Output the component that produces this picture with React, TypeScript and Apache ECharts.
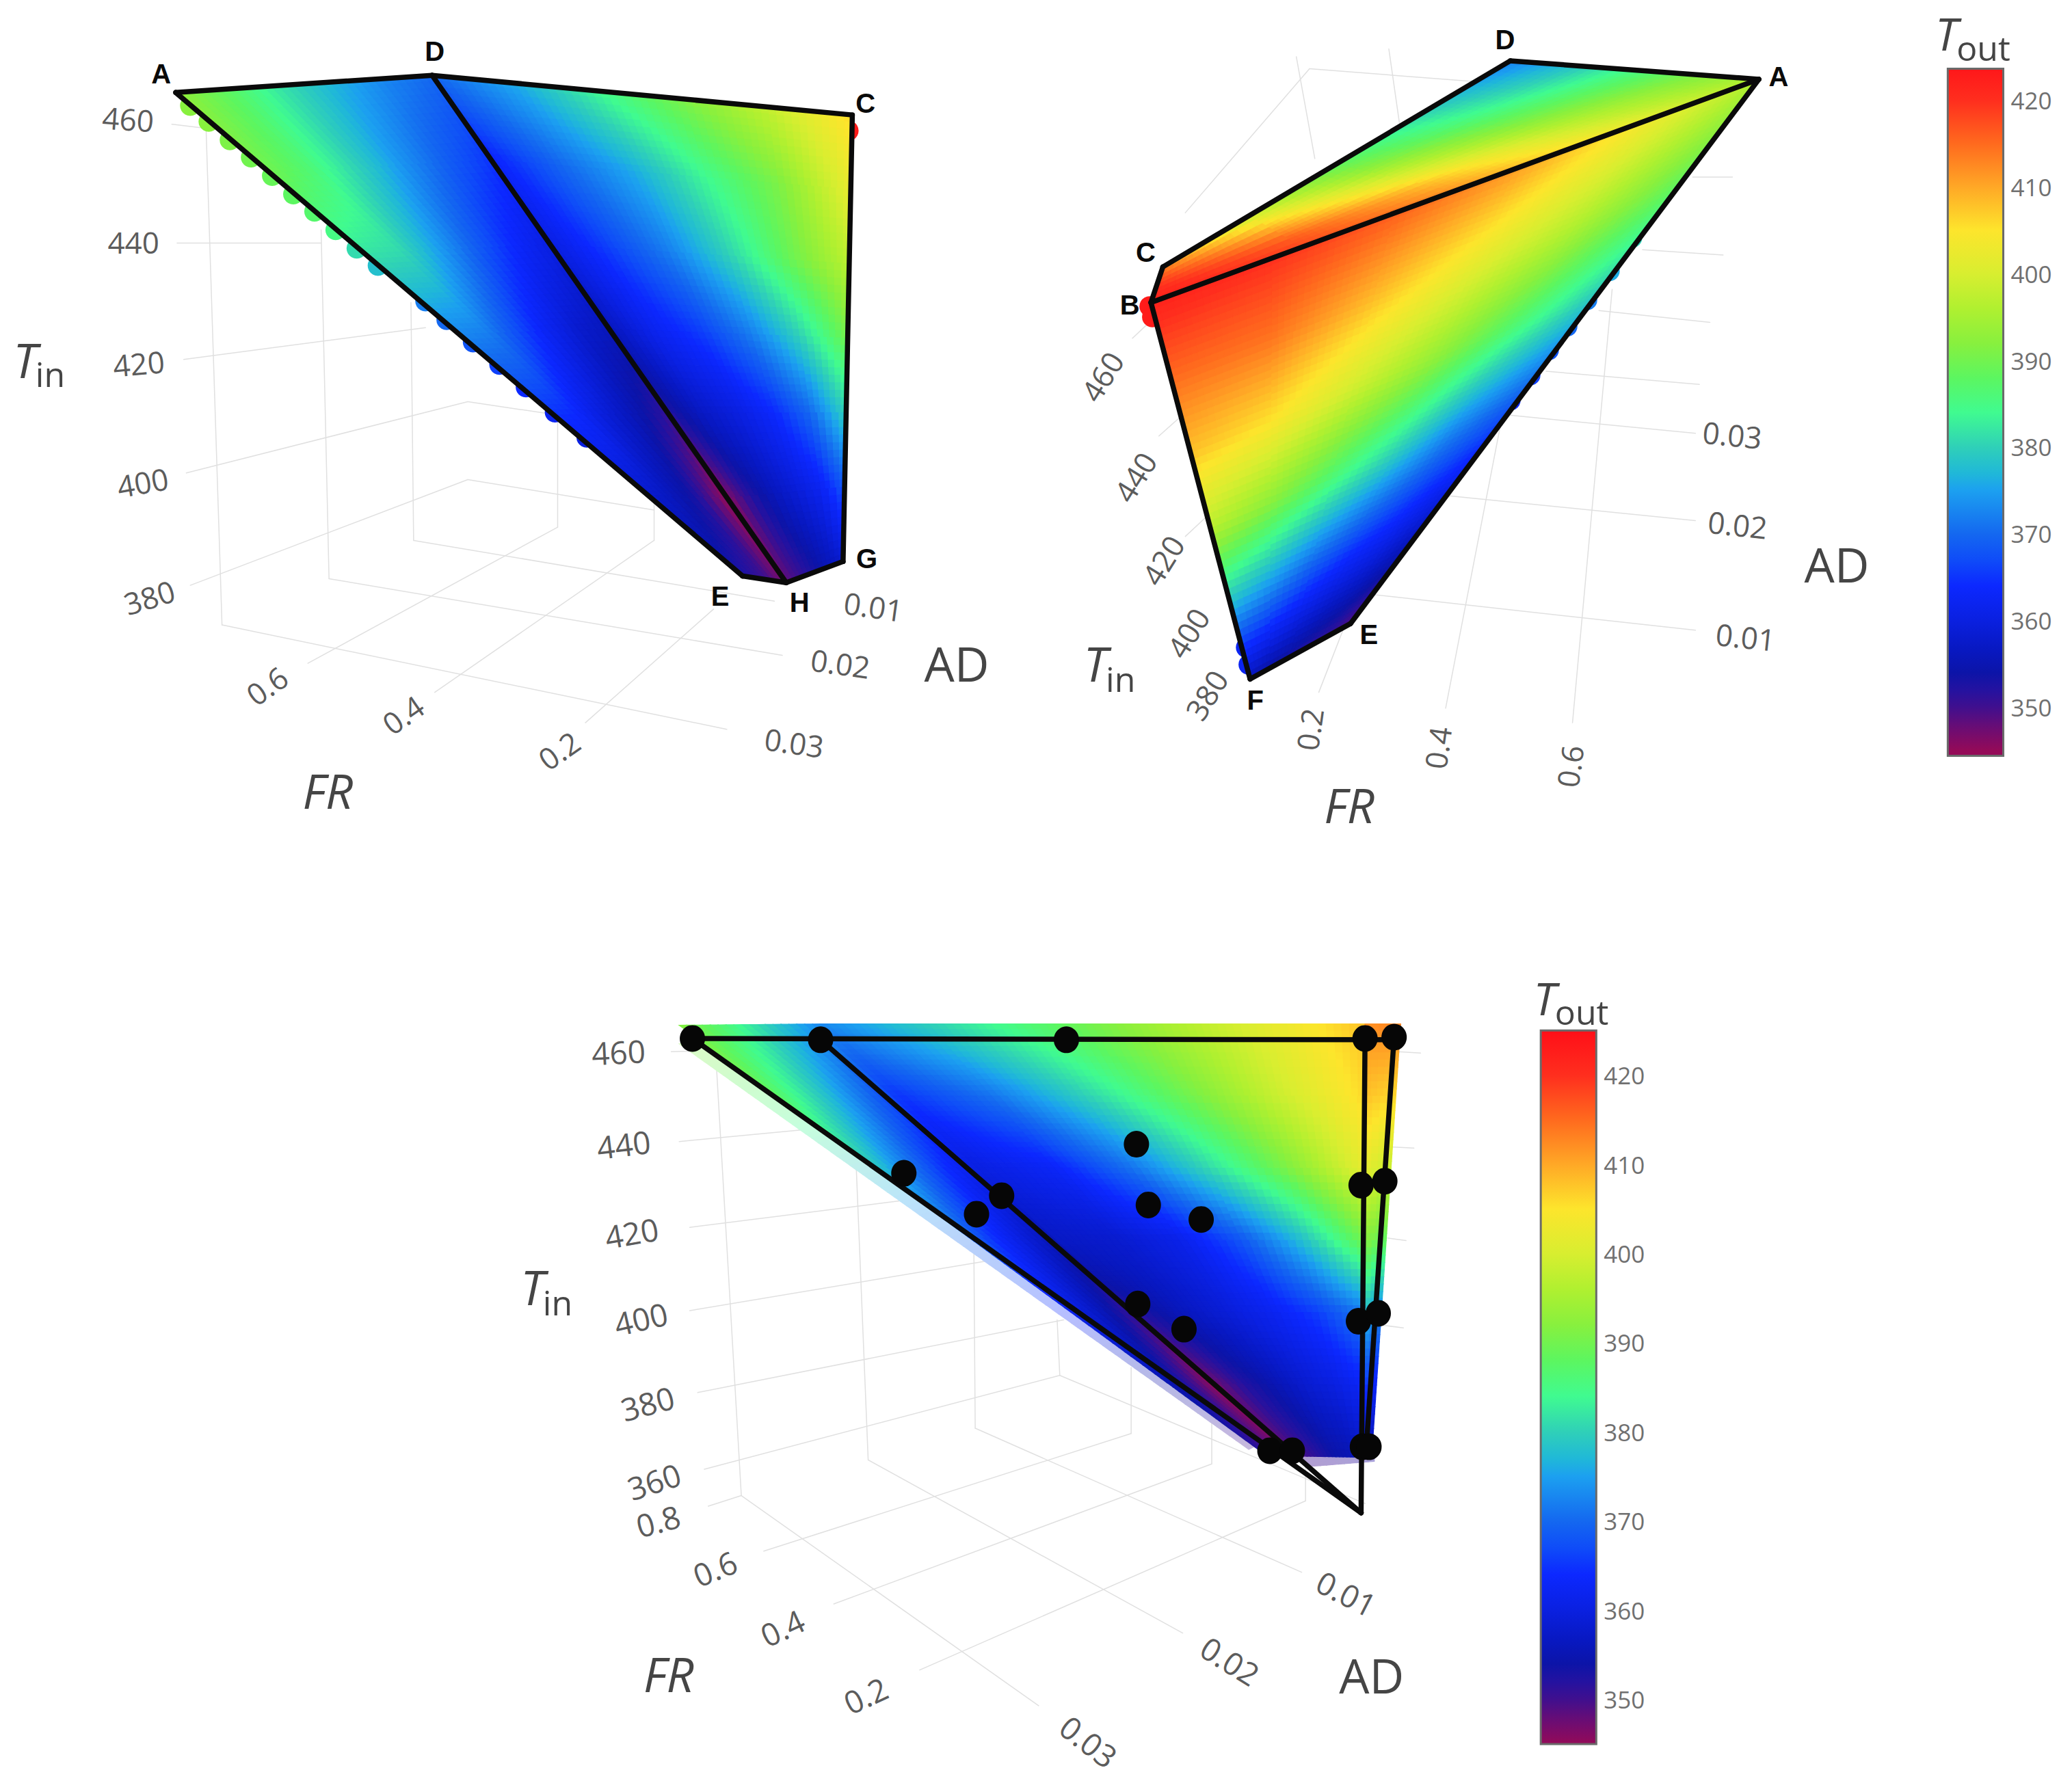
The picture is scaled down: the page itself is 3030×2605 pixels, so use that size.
import React, { useEffect, useRef } from "react";
import * as echarts from "echarts";

type Pt = [number, number];

// Colour scale
const scaleValues = [345, 348, 350, 352, 354, 356.5, 360, 364, 367, 370, 375, 377, 380, 384, 388, 392, 396, 400, 405, 410, 415, 420, 425];
const scaleColors = ["#940a58", "#640d78", "#400f8e", "#2412a0", "#0c14a8", "#0818c0", "#0a20e0", "#0c28ff", "#0f4cf8", "#1468f0", "#1ca0f0", "#20b8d8", "#2fd0b8", "#40fb90", "#5cf660", "#88f03e", "#b0f030", "#d8ee30", "#fde52c", "#ffa826", "#ff6a1e", "#ff2e1e", "#ff0f18"];

// Surfaces: corners (top-left, top-right, bottom-right, bottom-left) on the picture plane; T_out readings on a lattice
const p1LeftCorners: Pt[] = [[133, 70], [327, 57], [595, 441], [562, 436]];
const p1LeftTemps = [
  [393, 388, 382, 377, 373, 370],
  [390, 386, 380, 374, 369, 365],
  [382, 381, 375, 369, 364, 360],
  [373, 372, 367, 362, 358, 356],
  [365, 364, 360, 357, 354, 351],
  [358, 357, 355, 353, 349, 345],
  [353, 352, 351, 350, 348, 347],
];
const p1RightCorners: Pt[] = [[327, 57], [645, 87], [638, 425], [595, 441]];
const p1RightTemps = [
  [370, 376, 384, 391, 398, 406],
  [363, 370, 376, 384, 391, 402],
  [360, 366, 372, 380, 389, 397],
  [356, 362, 366, 372, 380, 390],
  [352, 357, 360, 364, 370, 380],
  [346, 352, 356, 359, 362, 368],
  [348, 350, 352, 354, 356, 358],
];
const p2TopCorners: Pt[] = [[880, 202], [1143, 46], [1331, 60], [871, 229]];
const p2TopTemps = [
  [412, 398, 388, 380, 372],
  [416, 405, 393, 385, 378],
  [419, 411, 400, 391, 385],
  [421, 416, 408, 398, 391],
  [422, 418, 412, 404, 396],
];
const p2LowCorners: Pt[] = [[871, 229], [1331, 60], [1022, 472], [946, 514]];
const p2LowTemps = [
  [422, 420, 416, 411, 404, 396],
  [415, 414, 408, 402, 396, 388],
  [408, 405, 399, 393, 386, 379],
  [397, 392, 386, 380, 373, 368],
  [378, 374, 369, 365, 362, 358],
  [356, 354, 353, 352, 351, 349],
];
const p3LeftCorners: Pt[] = [[514, 776], [621, 775], [978, 1102], [952, 1097]];
const p3LeftTemps = [
  [392, 386, 379, 373],
  [388, 380, 372, 365],
  [380, 372, 365, 360],
  [370, 364, 359, 355],
  [362, 358, 354, 350],
  [356, 353, 349, 345],
  [352, 350, 348, 347],
];
const p3MidCorners: Pt[] = [[621, 775], [1033, 775], [1033, 1103], [978, 1102]];
const p3MidTemps = [
  [373, 380, 387, 394, 401, 408],
  [365, 371, 380, 389, 398, 406],
  [360, 363, 371, 381, 391, 402],
  [357, 358, 361, 368, 378, 390],
  [352, 356, 359, 362, 366, 372],
  [347, 352, 355, 358, 360, 363],
  [348, 350, 352, 354, 355, 357],
];
const p3RightCorners: Pt[] = [[1033, 775], [1060, 775], [1038, 1103], [1033, 1103]];
const p3RightTemps = [
  [412, 413],
  [408, 406],
  [402, 398],
  [392, 388],
  [378, 372],
  [366, 362],
  [356, 354],
];
const p3FringeCorners: Pt[] = [[514, 790], [526, 787], [955, 1092], [945, 1097]];
const p3FringeTemps = [
  [392, 392],
  [386, 386],
  [378, 378],
  [370, 370],
  [364, 364],
  [354, 354],
  [350, 350],
];
const p3FootCorners: Pt[] = [[975, 1100], [1040, 1098], [1040, 1106], [990, 1110]];
const p3FootTemps = [
  [350, 352],
  [350, 352],
];

// Sampled points that poke out past the surface outlines: x, y, T_out
const edgeBlobs = [
  [144, 80, 392], [158, 92, 392], [174, 106, 391], [190, 119, 390], [206, 133, 389], [222, 147, 388], [238, 160, 387], [254, 174, 385], [270, 188, 381], [286, 201, 378],
  [322, 228, 372], [338, 242, 370], [358, 259, 368], [378, 276, 366], [398, 293, 364], [420, 312, 362], [444, 331, 360],
  [642, 99, 423],
  [870, 232, 423], [872, 240, 423], [943, 490, 362], [945, 503, 362],
  [1235, 180, 380], [1218, 205, 376], [1201, 227, 372], [1186, 247, 370], [1172, 265, 368], [1158, 284, 366], [1143, 303, 364],
];

// Black design points in the lower panel: x, y
const designPoints: Pt[] = [
  [524, 786], [621, 787], [807, 787], [1033, 786], [1055, 785], [860, 866], [684, 888], [1030, 897], [1048, 894], [758, 905], [739, 919],
  [869, 912], [909, 923], [861, 987], [896, 1006], [1028, 1000], [1043, 994], [961, 1098], [978, 1098], [1031, 1095], [1036, 1095],
];

// Box edges / grid lines: x1, y1, x2, y2
const gridSegments = [
  // upper-left
  [130, 94, 155, 97], [134, 184, 243, 184], [139, 272, 322, 248], [141, 358, 354, 304], [144, 443, 354, 363], [168, 473, 550, 552], [249, 438, 592, 496], [313, 409, 586, 455],
  [354, 363, 495, 386], [354, 304, 421, 314], [168, 473, 156, 99], [249, 438, 243, 174], [313, 409, 311, 229], [422, 399, 422, 318], [495, 409, 495, 376],
  [233, 502, 422, 399], [329, 524, 495, 409], [443, 547, 540, 461],
  // upper-right
  [991, 52, 1119, 62], [991, 52, 897, 161], [981, 43, 995, 120], [1051, 37, 1059, 93], [1281, 134, 1311, 134], [1243, 189, 1304, 193], [1210, 235, 1294, 244], [1170, 281, 1286, 291],
  [1140, 314, 1283, 328], [1094, 375, 1283, 394], [1039, 450, 1283, 477], [998, 524, 1019, 470], [1094, 536, 1137, 314], [1190, 547, 1220, 219],
  [857, 256, 875, 239], [877, 330, 895, 314], [897, 406, 912, 392],
  // lower
  [508, 796, 542, 795], [1058, 796, 1075, 797], [514, 864, 609, 855], [1052, 868, 1070, 869], [522, 929, 704, 906], [1050, 937, 1064, 939], [522, 992, 755, 953], [1046, 1003, 1062, 1005],
  [528, 1054, 805, 999], [533, 1112, 802, 1041], [561, 1132, 542, 804], [657, 1105, 648, 884], [738, 1081, 737, 947], [802, 1041, 800, 999], [856, 1085, 856, 1035], [917, 1108, 917, 1075], [988, 1136, 988, 1107],
  [561, 1132, 786, 1291], [657, 1105, 895, 1236], [738, 1081, 985, 1190], [802, 1041, 1033, 1138], [578, 1174, 856, 1085], [631, 1214, 917, 1108], [696, 1264, 988, 1136], [536, 1140, 561, 1132],
];

// Black outlines: x1, y1, x2, y2
const outlineSegments = [
  [133, 70, 327, 57], [327, 57, 645, 87], [645, 87, 638, 425], [638, 425, 595, 441], [595, 441, 562, 436], [562, 436, 133, 70], [327, 57, 595, 441],
  [880, 202, 1143, 46], [1143, 46, 1331, 60], [1331, 60, 871, 229], [871, 229, 880, 202], [871, 229, 946, 514], [946, 514, 1022, 472], [1022, 472, 1331, 60],
  [524, 786, 1055, 787], [524, 786, 1030, 1145], [621, 787, 1030, 1145], [1033, 786, 1030, 1145], [1055, 785, 1034, 1095],
];

// Texts: x, y, then the string, rotation (degrees) in the parallel lists
const tickPos: Pt[] = [
  [97, 90], [101, 183], [105, 275], [108, 365], [113, 452], [202, 519], [305, 541], [423, 568], [661, 459], [636, 502], [601, 562],
  [834, 285], [859, 361], [880, 424], [899, 479], [913, 526], [991, 552], [1088, 566], [1188, 580], [1311, 329], [1315, 397], [1321, 482],
  [468, 796], [472, 866], [478, 933], [485, 998], [490, 1062], [495, 1121], [498, 1151], [541, 1187], [592, 1232], [655, 1283], [1019, 1206], [931, 1257], [824, 1318],
];
const tickText = [
  "460", "440", "420", "400", "380", "0.6", "0.4", "0.2", "0.01", "0.02", "0.03",
  "460", "440", "420", "400", "380", "0.2", "0.4", "0.6", "0.03", "0.02", "0.01",
  "460", "440", "420", "400", "380", "360", "0.8", "0.6", "0.4", "0.2", "0.01", "0.02", "0.03",
];
const tickRot = [
  -4, 0, 5, 10, 17, 35, 35, 35, -8, -8, -8,
  58, 58, 58, 58, 58, 82, 82, 82, -6, -6, -6,
  3, 7, 10, 13, 15, 18, 15, 22, 25, 25, -27, -32, -38,
];
const vertexPos: Pt[] = [
  [122, 56], [329, 39], [655, 78], [656, 423], [605, 456], [545, 451],
  [1139, 30], [1346, 58], [867, 191], [855, 231], [950, 530], [1036, 480],
];
const vertexText = ["A", "D", "C", "G", "H", "E", "D", "A", "C", "B", "F", "E"];
const titlePos: Pt[] = [[724, 502], [248, 598], [1390, 427], [1021, 609], [1038, 1268], [506, 1267]];
const titleText = ["AD", "FR", "AD", "FR", "AD", "FR"];
const titleItalic = [false, true, false, true, false, true];
const symbolPos: Pt[] = [[19, 272], [829, 502], [403, 974], [1473, 25], [1169, 755]];
const symbolSubPos: Pt[] = [[38, 283], [848, 514], [422, 986], [1501, 36], [1197, 766]];
const symbolText = ["T", "T", "T", "T", "T"];
const symbolSubText = ["in", "in", "in", "out", "out"];

// Colour bars
const barTicks = [350, 360, 370, 380, 390, 400, 410, 420];
const barOneRange = [344.4, 423.65];
const barTwoRange = [345, 425];

const SX = 3030 / 1568;
const SY = 2605 / 1348;

function hexRgb(h: string) {
  return [parseInt(h.slice(1, 3), 16), parseInt(h.slice(3, 5), 16), parseInt(h.slice(5, 7), 16)];
}
const scaleRgb = scaleColors.map(hexRgb);
function tempColor(t: number, wash = 0) {
  const n = scaleValues.length;
  let rgb: number[];
  if (t <= scaleValues[0]) rgb = scaleRgb[0];
  else if (t >= scaleValues[n - 1]) rgb = scaleRgb[n - 1];
  else {
    let i = 0;
    while (t > scaleValues[i + 1]) i++;
    const f = (t - scaleValues[i]) / (scaleValues[i + 1] - scaleValues[i]);
    rgb = scaleRgb[i].map((a, k) => a + (scaleRgb[i + 1][k] - a) * f);
  }
  const m = rgb.map((c) => Math.round(c + (255 - c) * wash));
  return `rgb(${m[0]},${m[1]},${m[2]})`;
}

const faces = [
  { c: p3FringeCorners, t: p3FringeTemps, wash: 0.7 },
  { c: p3FootCorners, t: p3FootTemps, wash: 0.6 },
  { c: p1LeftCorners, t: p1LeftTemps, wash: 0 },
  { c: p1RightCorners, t: p1RightTemps, wash: 0 },
  { c: p2TopCorners, t: p2TopTemps, wash: 0 },
  { c: p2LowCorners, t: p2LowTemps, wash: 0 },
  { c: p3LeftCorners, t: p3LeftTemps, wash: 0 },
  { c: p3MidCorners, t: p3MidTemps, wash: 0 },
  { c: p3RightCorners, t: p3RightTemps, wash: 0 },
];
const cellItems: number[][] = [];
faces.forEach((f, i) => {
  for (let r = 0; r < f.t.length - 1; r++) for (let k = 0; k < f.t[0].length - 1; k++) cellItems.push([i, r, k]);
});

function facePoint(c: Pt[], u: number, v: number): Pt {
  const tx = c[0][0] + (c[1][0] - c[0][0]) * u;
  const ty = c[0][1] + (c[1][1] - c[0][1]) * u;
  const bx = c[3][0] + (c[2][0] - c[3][0]) * u;
  const by = c[3][1] + (c[2][1] - c[3][1]) * u;
  return [tx + (bx - tx) * v, ty + (by - ty) * v];
}

// One lattice cell, painted with Gouraud-style shading between its four readings
function renderCell(_p: any, api: any) {
  const f = faces[api.value(0)];
  const r = api.value(1);
  const k = api.value(2);
  const rows = f.t.length - 1;
  const cols = f.t[0].length - 1;
  const u0 = k / cols, u1 = (k + 1) / cols, v0 = r / rows, v1 = (r + 1) / rows;
  const a = facePoint(f.c, u0, v0), b = facePoint(f.c, u1, v1), d = facePoint(f.c, u1, v0), e = facePoint(f.c, u0, v1);
  const w = Math.max(Math.hypot(a[0] - d[0], a[1] - d[1]), Math.hypot(e[0] - b[0], e[1] - b[1]));
  const h = Math.max(Math.hypot(a[0] - e[0], a[1] - e[1]), Math.hypot(d[0] - b[0], d[1] - b[1]));
  const nu = Math.max(1, Math.min(18, Math.ceil(w / 6)));
  const nv = Math.max(1, Math.min(18, Math.ceil(h / 6)));
  const children: any[] = [];
  for (let i = 0; i < nu; i++) {
    for (let j = 0; j < nv; j++) {
      const s0 = i / nu, s1 = (i + 1) / nu, q0 = j / nv, q1 = (j + 1) / nv;
      const sm = (s0 + s1) / 2, qm = (q0 + q1) / 2;
      const t0 = f.t[r][k] * (1 - sm) + f.t[r][k + 1] * sm;
      const t1 = f.t[r + 1][k] * (1 - sm) + f.t[r + 1][k + 1] * sm;
      const col = tempColor(t0 * (1 - qm) + t1 * qm, f.wash);
      const pts = [[s0, q0], [s1, q0], [s1, q1], [s0, q1]].map(([s, q]) =>
        api.coord(facePoint(f.c, u0 + (u1 - u0) * s, v0 + (v1 - v0) * q))
      );
      children.push({ type: "polygon", shape: { points: pts }, style: { fill: col, stroke: col, lineWidth: 1.3 } });
    }
  }
  return { type: "group", children };
}

function segmentSeries(data: number[][], color: string, width: number, z: number) {
  return {
    type: "custom",
    xAxisIndex: 0,
    yAxisIndex: 0,
    z,
    silent: true,
    clip: false,
    data,
    renderItem: (_p: any, api: any) => {
      const a = api.coord([api.value(0), api.value(1)]);
      const b = api.coord([api.value(2), api.value(3)]);
      return { type: "line", shape: { x1: a[0], y1: a[1], x2: b[0], y2: b[1] }, style: { stroke: color, lineWidth: width, lineCap: "round" } };
    },
  };
}

function textSeries(pos: Pt[], style: (i: number) => any, z = 30) {
  return {
    type: "custom",
    xAxisIndex: 0,
    yAxisIndex: 0,
    z,
    silent: true,
    clip: false,
    data: pos,
    renderItem: (p: any, api: any) => {
      const c = api.coord([api.value(0), api.value(1)]);
      const st = style(p.dataIndex);
      return {
        type: "text",
        x: c[0],
        y: c[1],
        rotation: ((st.rot || 0) * Math.PI) / 180,
        style: {
          text: st.text,
          fontFamily: st.family || "Open Sans",
          fontSize: st.size,
          fontStyle: st.italic ? "italic" : "normal",
          fontWeight: st.weight || "normal",
          fill: st.fill,
          align: st.align || "center",
          verticalAlign: "middle",
        },
      };
    },
  };
}

function barSeries(range: number[], axis: number) {
  return {
    type: "custom",
    xAxisIndex: axis,
    yAxisIndex: axis,
    z: 5,
    silent: true,
    clip: false,
    data: [[0, range[0], 1, range[1]]],
    renderItem: (_p: any, api: any) => {
      const a = api.coord([api.value(0), api.value(3)]);
      const b = api.coord([api.value(2), api.value(1)]);
      const stops = scaleValues
        .filter((v) => v >= range[0] && v <= range[1])
        .map((v) => ({ offset: (range[1] - v) / (range[1] - range[0]), color: tempColor(v) }));
      stops.unshift({ offset: 0, color: tempColor(range[1]) });
      stops.push({ offset: 1, color: tempColor(range[0]) });
      stops.sort((x, y) => x.offset - y.offset);
      return {
        type: "rect",
        shape: { x: a[0], y: a[1], width: b[0] - a[0], height: b[1] - a[1] },
        style: { fill: new echarts.graphic.LinearGradient(0, 0, 0, 1, stops), stroke: "#6a6a6a", lineWidth: 3 },
      };
    },
  };
}

function barAxis(grid: number, range: number[]) {
  return {
    type: "value",
    gridIndex: grid,
    position: "right",
    min: range[0],
    max: range[1],
    axisLine: { show: false },
    axisTick: { show: false },
    splitLine: { show: false },
    axisLabel: { customValues: barTicks, color: "#707070", fontSize: 35, fontFamily: "Open Sans", margin: 11 },
  };
}

export default function App() {
  const ref = useRef<HTMLDivElement>(null);
  useEffect(() => {
    const chart = echarts.init(ref.current!, undefined, { renderer: "svg" });
    chart.setOption({
      animation: false,
      backgroundColor: "#ffffff",
      grid: [
        { left: 0, top: 0, width: 3030, height: 2605 },
        { left: 1474 * SX, top: 52 * SY, width: 42 * SX, height: 520 * SY },
        { left: 1166 * SX, top: 780 * SY, width: 42 * SX, height: 540 * SY },
      ],
      xAxis: [
        { type: "value", gridIndex: 0, min: 0, max: 1568, show: false },
        { type: "value", gridIndex: 1, min: 0, max: 1, show: false },
        { type: "value", gridIndex: 2, min: 0, max: 1, show: false },
      ],
      yAxis: [
        { type: "value", gridIndex: 0, min: 0, max: 1348, inverse: true, show: false },
        barAxis(1, barOneRange),
        barAxis(2, barTwoRange),
      ],
      series: [
        segmentSeries(gridSegments, "#e0e0e0", 1.5, 1),
        {
          type: "scatter",
          xAxisIndex: 0,
          yAxisIndex: 0,
          z: 2,
          silent: true,
          symbolSize: 30,
          data: edgeBlobs,
          itemStyle: { opacity: 1, color: (p: any) => tempColor(p.value[2]) },
        },
        { type: "custom", xAxisIndex: 0, yAxisIndex: 0, z: 3, silent: true, clip: false, data: cellItems, renderItem: renderCell },
        segmentSeries(outlineSegments, "#0a0a0a", 7.5, 10),
        {
          type: "scatter",
          xAxisIndex: 0,
          yAxisIndex: 0,
          z: 12,
          silent: true,
          symbol: "circle",
          symbolSize: [37, 39],
          data: designPoints,
          itemStyle: { color: "#060606", opacity: 1 },
        },
        barSeries(barOneRange, 1),
        barSeries(barTwoRange, 2),
        textSeries(tickPos, (i) => ({ text: tickText[i], rot: tickRot[i], size: i >= 22 ? 46 : 44, fill: "#5c5c5c" })),
        textSeries(vertexPos, (i) => ({ text: vertexText[i], size: 40, weight: "bold", family: "Liberation Sans", fill: "#0a0a0a" })),
        textSeries(titlePos, (i) => ({ text: titleText[i], size: 70, italic: titleItalic[i], fill: "#454545" })),
        textSeries(symbolPos, (i) => ({ text: symbolText[i], size: i >= 3 ? 66 : 70, italic: true, fill: "#454545" })),
        textSeries(symbolSubPos, (i) => ({ text: symbolSubText[i], size: 50, fill: "#454545" })),
      ],
    });
    return () => chart.dispose();
  }, []);
  return <div ref={ref} style={{ position: "absolute", left: 0, top: 0, width: 3030, height: 2605 }} />;
}
